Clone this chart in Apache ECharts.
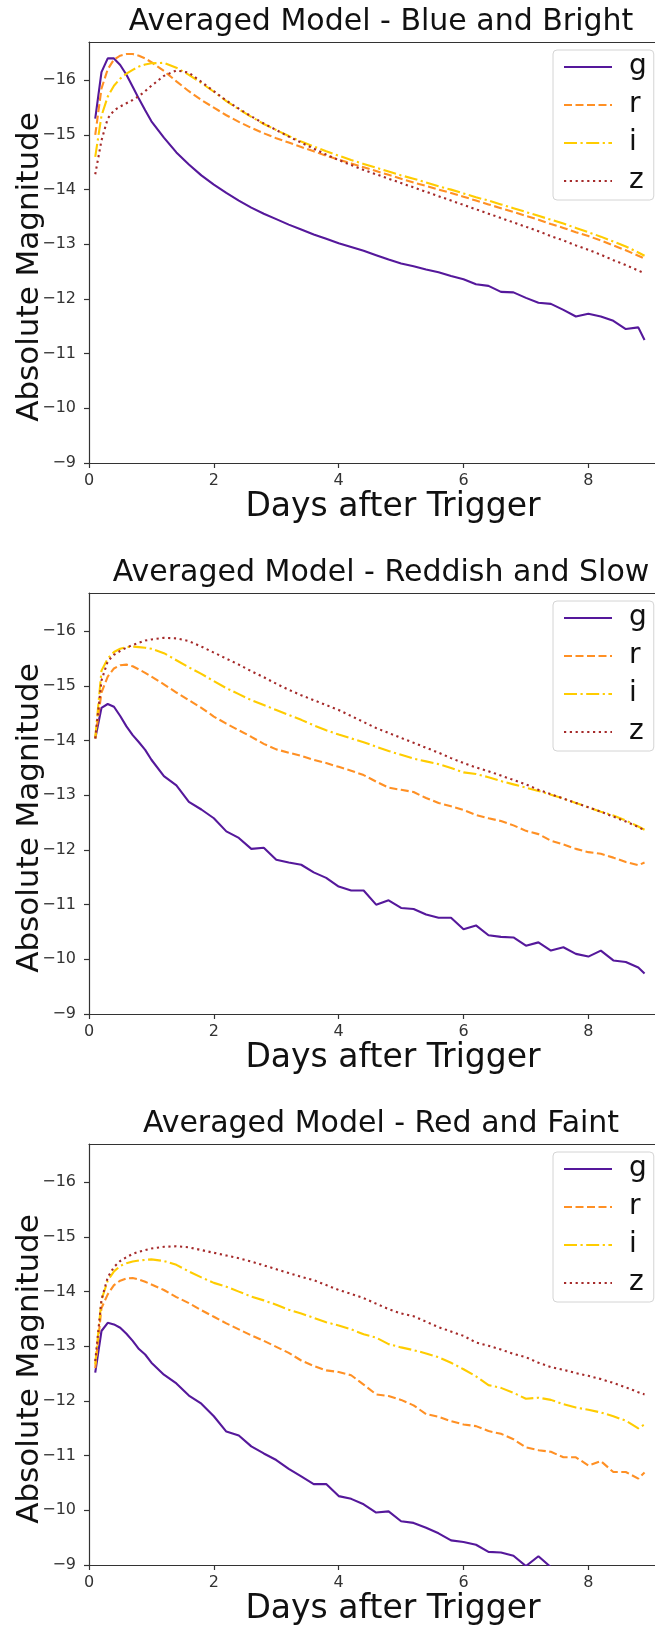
<!DOCTYPE html>
<html><head><meta charset="utf-8">
<script src="https://cdn.jsdelivr.net/npm/echarts@6/dist/echarts.min.js"></script>
<style>html,body{margin:0;padding:0;background:#fff}#c{width:655px;height:1625px}</style>
</head><body><div id="c"></div>
<script>
const DAYS = [0.1,0.2,0.3,0.4,0.5,0.6,0.7,0.8,0.9,1.0,1.2,1.4,1.6,1.8,2.0,2.2,2.4,2.6,2.8,3.0,3.2,3.4,3.6,3.8,4.0,4.2,4.4,4.6,4.8,5.0,5.2,5.4,5.6,5.8,6.0,6.2,6.4,6.6,6.8,7.0,7.2,7.4,7.6,7.8,8.0,8.2,8.4,8.6,8.8,8.9];
const TITLES = ['Averaged Model - Blue and Bright','Averaged Model - Reddish and Slow','Averaged Model - Red and Faint'];
const BANDS = ['g','r','i','z'];
const X_TICKS = [0,2,4,6,8];
const Y_TICKS = [-16,-15,-14,-13,-12,-11,-10,-9];
const X_LABEL = 'Days after Trigger';
const Y_LABEL = 'Absolute Magnitude';

const BLUE_G = [-15.3,-16.15,-16.4,-16.4,-16.28,-16.1,-15.88,-15.66,-15.45,-15.25,-14.95,-14.68,-14.46,-14.26,-14.09,-13.94,-13.8,-13.67,-13.56,-13.46,-13.36,-13.27,-13.18,-13.1,-13.02,-12.95,-12.88,-12.8,-12.72,-12.65,-12.6,-12.54,-12.49,-12.42,-12.36,-12.27,-12.24,-12.13,-12.12,-12.02,-11.93,-11.91,-11.8,-11.68,-11.73,-11.68,-11.6,-11.45,-11.48,-11.25];
const BLUE_R = [-15.0,-15.85,-16.2,-16.38,-16.45,-16.48,-16.48,-16.45,-16.4,-16.33,-16.17,-15.98,-15.8,-15.64,-15.5,-15.36,-15.24,-15.13,-15.03,-14.94,-14.86,-14.78,-14.7,-14.62,-14.55,-14.48,-14.41,-14.34,-14.27,-14.2,-14.13,-14.07,-14.0,-13.94,-13.87,-13.8,-13.73,-13.66,-13.59,-13.52,-13.45,-13.37,-13.3,-13.22,-13.15,-13.07,-12.98,-12.89,-12.79,-12.74];
const BLUE_I = [-14.6,-15.35,-15.7,-15.9,-16.03,-16.12,-16.19,-16.25,-16.29,-16.31,-16.32,-16.23,-16.1,-15.95,-15.79,-15.62,-15.47,-15.33,-15.2,-15.09,-14.98,-14.88,-14.79,-14.7,-14.62,-14.54,-14.47,-14.4,-14.33,-14.26,-14.2,-14.13,-14.06,-14.0,-13.93,-13.86,-13.8,-13.73,-13.66,-13.59,-13.52,-13.45,-13.38,-13.3,-13.22,-13.14,-13.05,-12.96,-12.85,-12.79];
const BLUE_Z = [-14.28,-14.9,-15.3,-15.45,-15.52,-15.58,-15.64,-15.71,-15.8,-15.9,-16.08,-16.18,-16.14,-15.97,-15.8,-15.63,-15.48,-15.34,-15.21,-15.09,-14.97,-14.86,-14.75,-14.64,-14.54,-14.45,-14.36,-14.28,-14.2,-14.12,-14.04,-13.96,-13.88,-13.8,-13.72,-13.64,-13.56,-13.48,-13.4,-13.32,-13.24,-13.15,-13.07,-12.98,-12.9,-12.81,-12.71,-12.62,-12.52,-12.47];

const REDDISH_G = [-14.04,-14.6,-14.67,-14.62,-14.45,-14.26,-14.1,-13.97,-13.83,-13.65,-13.35,-13.18,-12.88,-12.74,-12.58,-12.34,-12.22,-12.02,-12.04,-11.82,-11.77,-11.73,-11.59,-11.49,-11.33,-11.26,-11.26,-11.0,-11.08,-10.94,-10.92,-10.82,-10.76,-10.76,-10.55,-10.62,-10.44,-10.41,-10.4,-10.25,-10.31,-10.16,-10.22,-10.1,-10.05,-10.16,-9.98,-9.95,-9.85,-9.74];
const REDDISH_R = [-14.04,-14.88,-15.17,-15.32,-15.38,-15.39,-15.36,-15.3,-15.24,-15.17,-15.03,-14.88,-14.74,-14.6,-14.44,-14.31,-14.19,-14.07,-13.94,-13.84,-13.78,-13.72,-13.65,-13.59,-13.52,-13.45,-13.37,-13.25,-13.14,-13.1,-13.06,-12.95,-12.86,-12.8,-12.73,-12.64,-12.58,-12.53,-12.45,-12.35,-12.29,-12.17,-12.1,-12.02,-11.96,-11.93,-11.86,-11.78,-11.72,-11.77];
const REDDISH_I = [-14.04,-15.28,-15.5,-15.62,-15.68,-15.71,-15.72,-15.71,-15.7,-15.68,-15.6,-15.47,-15.34,-15.22,-15.09,-14.96,-14.85,-14.74,-14.65,-14.56,-14.47,-14.38,-14.28,-14.19,-14.11,-14.04,-13.97,-13.89,-13.81,-13.74,-13.67,-13.62,-13.57,-13.5,-13.42,-13.39,-13.33,-13.26,-13.2,-13.14,-13.08,-13.01,-12.94,-12.86,-12.78,-12.7,-12.63,-12.54,-12.43,-12.37];
const REDDISH_Z = [-14.04,-15.1,-15.45,-15.57,-15.64,-15.7,-15.75,-15.79,-15.83,-15.85,-15.88,-15.87,-15.82,-15.72,-15.61,-15.5,-15.39,-15.27,-15.16,-15.04,-14.93,-14.83,-14.74,-14.65,-14.56,-14.45,-14.34,-14.23,-14.14,-14.05,-13.96,-13.87,-13.78,-13.68,-13.59,-13.51,-13.44,-13.36,-13.28,-13.2,-13.1,-13.02,-12.94,-12.86,-12.78,-12.7,-12.61,-12.52,-12.42,-12.36];

const RED_G = [-12.52,-13.28,-13.43,-13.4,-13.34,-13.23,-13.1,-12.95,-12.85,-12.7,-12.48,-12.32,-12.1,-11.95,-11.72,-11.44,-11.37,-11.17,-11.04,-10.92,-10.76,-10.62,-10.48,-10.48,-10.26,-10.21,-10.11,-9.96,-9.98,-9.8,-9.77,-9.68,-9.58,-9.45,-9.42,-9.37,-9.24,-9.23,-9.17,-8.98,-9.16,-8.96,-8.88,null,null,null,null,null,null,null];
const RED_R = [-12.6,-13.7,-13.95,-14.12,-14.2,-14.24,-14.25,-14.22,-14.18,-14.13,-14.03,-13.9,-13.79,-13.66,-13.54,-13.42,-13.31,-13.2,-13.1,-12.99,-12.88,-12.74,-12.64,-12.56,-12.53,-12.47,-12.3,-12.12,-12.09,-12.02,-11.92,-11.76,-11.71,-11.63,-11.57,-11.54,-11.45,-11.4,-11.3,-11.15,-11.1,-11.07,-10.97,-10.97,-10.82,-10.9,-10.7,-10.7,-10.58,-10.69];
const RED_I = [-12.67,-13.85,-14.2,-14.37,-14.47,-14.52,-14.55,-14.57,-14.58,-14.59,-14.56,-14.49,-14.37,-14.26,-14.16,-14.09,-14.0,-13.91,-13.84,-13.76,-13.67,-13.6,-13.52,-13.44,-13.38,-13.31,-13.22,-13.16,-13.04,-12.98,-12.93,-12.87,-12.8,-12.7,-12.58,-12.45,-12.29,-12.24,-12.15,-12.04,-12.06,-12.02,-11.94,-11.88,-11.84,-11.79,-11.72,-11.64,-11.5,-11.57];
const RED_Z = [-12.73,-13.85,-14.26,-14.45,-14.56,-14.63,-14.69,-14.73,-14.76,-14.79,-14.82,-14.83,-14.81,-14.76,-14.71,-14.66,-14.61,-14.55,-14.48,-14.41,-14.34,-14.27,-14.21,-14.12,-14.03,-13.96,-13.88,-13.78,-13.68,-13.6,-13.55,-13.45,-13.35,-13.27,-13.19,-13.07,-13.01,-12.94,-12.86,-12.8,-12.7,-12.62,-12.57,-12.51,-12.46,-12.4,-12.33,-12.25,-12.16,-12.12];

const PANELS = [
  [BLUE_G, BLUE_R, BLUE_I, BLUE_Z],
  [REDDISH_G, REDDISH_R, REDDISH_I, REDDISH_Z],
  [RED_G, RED_R, RED_I, RED_Z]
];

// styling / layout
const FONT = '"DejaVu Sans", "Liberation Sans", sans-serif';
const COLORS = ['#55189b', '#ff9024', '#ffcc00', '#a52a2a'];
const DASHES = ['solid', [8, 3.5], [13, 3.5, 2.2, 3.5], [2.2, 3.6]];
const GRID_LEFT = 89, GRID_RIGHT = -17, GRID_H = 421;
const GRID_TOPS = [42, 593, 1144];
const X_MAX = 9.34, Y_MIN = -16.7, Y_MAX = -9;
const AXIS_COLOR = '#333';

const chart = echarts.init(document.getElementById('c'), null, {renderer: 'canvas'});
const fmt = v => (v < 0 ? '\u2212' : '') + Math.abs(v);

const grid = [], xAxis = [], yAxis = [], series = [], legend = [], graphic = [];
GRID_TOPS.forEach((top, k) => {
  grid.push({left: GRID_LEFT, right: GRID_RIGHT, top: top, height: GRID_H, containLabel: false, outerBoundsMode: 'none'});
  xAxis.push({
    gridIndex: k, type: 'value', min: 0, max: X_MAX, position: 'bottom',
    axisLine: {show: true, onZero: false, lineStyle: {color: AXIS_COLOR, width: 1.2}},
    axisTick: {show: true, length: 5, customValues: X_TICKS, lineStyle: {color: AXIS_COLOR, width: 1.2}},
    axisLabel: {customValues: X_TICKS, formatter: fmt, fontSize: 16, color: '#333', margin: 10, fontFamily: FONT},
    splitLine: {show: false},
    name: X_LABEL, nameLocation: 'middle', nameGap: 28,
    nameTextStyle: {fontSize: 33, color: '#111', fontFamily: FONT, padding: [0, 0, 0, 25]}
  });
  xAxis.push({
    gridIndex: k, type: 'value', min: 0, max: X_MAX, position: 'top',
    axisLine: {show: true, onZero: false, lineStyle: {color: AXIS_COLOR, width: 1.2}},
    axisTick: {show: false}, axisLabel: {show: false}, splitLine: {show: false}
  });
  yAxis.push({
    gridIndex: k, type: 'value', min: Y_MIN, max: Y_MAX, inverse: true,
    axisLine: {show: true, onZero: false, lineStyle: {color: AXIS_COLOR, width: 1.2}},
    axisTick: {show: true, length: 5, customValues: Y_TICKS, lineStyle: {color: AXIS_COLOR, width: 1.2}},
    axisLabel: {customValues: Y_TICKS, formatter: fmt, fontSize: 16, color: '#333', margin: 13, fontFamily: FONT},
    splitLine: {show: false}
  });
  PANELS[k].forEach((vals, b) => {
    series.push({
      type: 'line', name: BANDS[b], xAxisIndex: 2 * k, yAxisIndex: k,
      data: DAYS.map((d, j) => [d, vals[j]]),
      symbol: 'none', showSymbol: false, connectNulls: false, clip: true,
      lineStyle: {color: COLORS[b], width: 2.1, type: DASHES[b], cap: 'butt'},
      itemStyle: {color: COLORS[b]},
      z: 2 + b, animation: false
    });
  });
  legend.push({
    data: BANDS, orient: 'vertical', left: 553, top: top + 8,
    itemWidth: 48, itemHeight: 14, itemGap: 10,
    itemStyle: {opacity: 0, color: 'rgba(0,0,0,0)', borderWidth: 0},
    lineStyle: {opacity: 1},
    backgroundColor: 'rgba(255,255,255,0.85)', borderColor: '#d4d4d4', borderWidth: 1, borderRadius: 4,
    padding: [3, 7, 5, 10],
    textStyle: {fontSize: 28, color: '#111', fontFamily: FONT, lineHeight: 28, padding: [0, 0, 0, 12]},
    selectedMode: false
  });
  graphic.push({
    type: 'text', x: 381, y: top - 20, z: 10,
    style: {text: TITLES[k], font: '30px ' + FONT, fill: '#111', align: 'center', verticalAlign: 'middle', textAlign: 'center', textVerticalAlign: 'middle'}
  });
  graphic.push({
    type: 'text', x: 30, y: top + 225, rotation: Math.PI / 2, z: 10,
    style: {text: Y_LABEL, font: '31px ' + FONT, fill: '#111', align: 'center', verticalAlign: 'middle', textAlign: 'center', textVerticalAlign: 'middle'}
  });
});

chart.setOption({
  animation: false,
  backgroundColor: '#fff',
  grid, xAxis, yAxis, series, legend, graphic
});
</script>
</body></html>
